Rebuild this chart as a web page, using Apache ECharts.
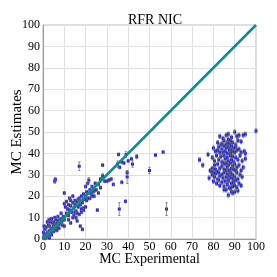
<!DOCTYPE html>
<html><head><meta charset="utf-8">
<script src="https://cdn.jsdelivr.net/npm/echarts@6/dist/echarts.min.js"></script>
<style>html,body{margin:0;padding:0;background:#fff}#c{width:277px;height:277px}</style>
</head><body><div id="c"></div>
<script>
const titleText = 'RFR NIC';
const xName = 'MC Experimental';
const yName = 'MC Estimates';
const axisTicks = [0,10,20,30,40,50,60,70,80,90,100];
const identityLine = [[0,0],[100,100]];
const defaultErrLow = 0.7;
const defaultErrCluster = 1.0;
// [x, y, (optional) error half-length]
const lowPoints = [
[0.3,0.5],[0.5,1.2],[0.8,0.3],[1,2],[1.2,1],[1.5,0.8],[1.8,2.5],[2,1.5],[2.2,3],[2.5,2],[2.8,3.5],[3,2.5],[3.2,4],[3.5,3],[3.8,4.5],[4,3.5],[4.2,5],[4.5,4],[4.8,6],[5,5],[5.2,4.5],[5.5,6.5],[5.8,5.5],[6,7],[6.2,6],[6.5,5.5],[6.8,7.5],[7,6.5],[7.2,8.5],[7.5,7],[7.8,9],[8,8],[8.5,7.5],[8.8,9.5],[9,8.5],[9.5,10.5],[10,9],[0.5,6],[1,4.5],[2,8],[2.8,9],[3.5,8],[4,9.5],[4.5,7.5],[5.5,10],[6,9],[3,0.5],[4,2],[5,3.5],[6.5,4],[7.5,5],[9,6.5],[10,6],[1.5,5.5],[2.5,6.5],[0.2,3],[5,8],[3,6],[7,10.5],[8.5,12],[5.5,27,1],[5.8,27.8,1]
];
const midPoints = [
[10,16.5],[10.5,15],[10,21.5],[11,12],[11.5,14],[12,11],[12,16],[12.5,13.5],[13,15.5],[13,18],[13.5,12.5],[14,17],[14.5,14.5],[14.5,11],[15,18],[15,16,1],[15.5,13],[15.5,10],[16,17.5],[16,12],[16.5,15],[17,19],[17,11.5],[17.5,16],[18,14],[18,20],[18.5,17],[19,21],[19,13.5],[19.5,18.5],[20,24.5],[20,20],[20.5,22],[21,19],[21,26],[21.5,27.5,1.2],[12,9],[13,7.5],[16,8.5],[14,10],[11,17.5],[18,12.5],[19,14.5],[17.5,6],[18.5,4.5],[15,12.5],[16.5,18.5],[12.5,19],[14,20],[20,15],
[22,23],[22.5,21,1.5],[23,20],[23,24.5],[24,22.5],[24.5,26],[25,23],[25.5,13.5],[26,25.5],[26,21.5],[27,28],[27,24],[28,34.5],[28,29.5,1],[29,27],[30,27],[31,27.5],[32,28],[33,25.5],[22,19],[24,20],[20.5,18],[23.5,22],
[17,34,2],[35,35,1.5],[35.5,39.5],[35.8,14,3],[36,33.5],[37,26.5],[37,36],[38,35.5],[38.7,17.6],[39,39.5,1.5],[39.5,29,3],[39.5,31],[40,36.5],[41.5,37.5],[42,35,1.5],[44,38.5,1],[50,32,1.5],[52.8,39.2],[56.4,40.6],[58,14,3]
];
const clusterPoints = [
[83,48],[84.5,47],[86,48.5],[88.5,47.5],[90,50],[91,48],[92,48.5],[94,48.5],[95,49],[100,50.5],[87,49],
[82,45],[83.5,44],[85,46],[86.5,45],[87.5,44.5],[88,46],[89,45],[90.5,44],[91.5,46],[93,45.5],[84,44.5],[87,46.5],
[80,42.5],[81,41],[82.5,43],[83,40.5],[84,42],[85,43.5],[85.5,41],[86,42.5],[86.5,40],[87,43],[87.5,41.5],[88,42],[88.5,43.5],[89,41],[89.5,42.5],[90,40.5],[90.5,43],[91,41.5],[92,42],[93,40.5],[94.5,41],[95,40],[84.5,40.5],[88,40],[82,41.5],[86,44],
[73.5,37],[77.5,39.5],[79.5,38],[80.5,36.5],[81.5,39],[82.5,37],[83.5,38.5],[84,36],[85,39],[85.5,37.5],[86.5,38],[87,36.5],[88,39],[88.5,37],[89,38.5],[89.5,36],[90.5,38],[91.5,37],[92.5,39],[93.5,36.5],[95,37.5],[86,35.5],[84.5,35.5],
[75,34.5],[79.5,33],[80.5,34.5],[81,32.5],[82,35],[83,33],[84,34],[85,32.5],[85.5,35],[86.5,33.5],[87,34.5],[87.5,32],[88,35.5],[88.5,33],[89,34],[89.5,32.5],[90,35],[91,33.5],[92,34.5],[93,32],[94,33.5],[78.5,32],[79,31.5],[86,32],[90.5,32],
[78,28.5],[79.5,30],[80,31],[80.5,29],[81,30.5],[82,28],[82.5,31],[83,29.5],[84,30],[84.5,28.5],[85,31],[86,29],[86.5,30.5],[87,28],[87.5,29.5],[88,31],[88.5,28.5],[89,30],[89.5,27.5],[90,29],[91,31],[91.5,28],[92.5,30],[93.5,29],[81.5,31.5],
[80,27],[81.5,26],[82.5,27.5],[83,25],[84,26.5],[85,24.5],[85.5,27],[86.5,25.5],[87,27],[87.5,24],[88.5,26],[89,24.5],[89.5,26.5],[90,25],[90.5,27.5],[91,24],[92,26],[93,25],[86,23],[88,23.5],
[85,23],[87,20.5],[88.5,22],[90,22],[91.5,22.5],[89,21.5]
];

const allPts = [];
lowPoints.concat(midPoints).forEach(p => allPts.push([p[0], p[1], p[2] != null ? p[2] : defaultErrLow]));
clusterPoints.forEach(p => allPts.push([p[0], p[1], p[2] != null ? p[2] : defaultErrCluster]));

const font = 'Liberation Serif';
const chart = echarts.init(document.getElementById('c'), null, {renderer:'canvas'});
chart.setOption({
  animation:false,
  backgroundColor:'#fff',
  title:{text:titleText, left:150, top:8, textAlign:'center',
    textStyle:{fontFamily:font, fontWeight:'normal', fontSize:14, color:'#000'}},
  grid:{left:43, right:21, top:25, bottom:38, show:true, borderColor:'#bbb', borderWidth:1,
    containLabel:false, outerBoundsMode:'none'},
  xAxis:{type:'value', min:0, max:100, interval:10, name:xName, nameLocation:'middle', nameGap:13,
    nameMoveOverlap:false,
    nameTextStyle:{fontFamily:font, fontSize:14, color:'#000'},
    axisLine:{show:true, onZero:false, lineStyle:{color:'#999'}}, axisTick:{show:false},
    axisLabel:{fontFamily:font, fontSize:12, color:'#000', margin:2},
    splitLine:{show:true, lineStyle:{color:'#e0e0e0'}}},
  yAxis:{type:'value', min:0, max:100, interval:10, name:yName, nameLocation:'middle', nameGap:18, nameRotate:90,
    nameMoveOverlap:false,
    nameTextStyle:{fontFamily:font, fontSize:15, color:'#000'},
    axisLine:{show:true, onZero:false, lineStyle:{color:'#999'}}, axisTick:{show:false},
    axisLabel:{fontFamily:font, fontSize:12, color:'#000', margin:3},
    splitLine:{show:true, lineStyle:{color:'#e0e0e0'}}},
  series:[
    {type:'scatter', data:allPts.map(p=>[p[0],p[1]]), symbol:'rect', symbolSize:3,
     itemStyle:{color:'#1a1aff', opacity:1}, z:2},
    {type:'custom', z:3, data:allPts,
     renderItem:function(params, api){
       const x = api.value(0), y = api.value(1), e = api.value(2);
       const top = api.coord([x, y+e]), bot = api.coord([x, y-e]);
       const style = {stroke:'#666', lineWidth:0.7};
       return {type:'group', children:[
         {type:'line', shape:{x1:top[0], y1:top[1], x2:bot[0], y2:bot[1]}, style:style},
         {type:'line', shape:{x1:top[0]-1.2, y1:top[1], x2:top[0]+1.2, y2:top[1]}, style:style},
         {type:'line', shape:{x1:bot[0]-1.2, y1:bot[1], x2:bot[0]+1.2, y2:bot[1]}, style:style}
       ]};
     }},
    {type:'line', data:identityLine, symbol:'none', lineStyle:{color:'#148a88', width:2.5}, z:4}
  ]
});
</script></body></html>
